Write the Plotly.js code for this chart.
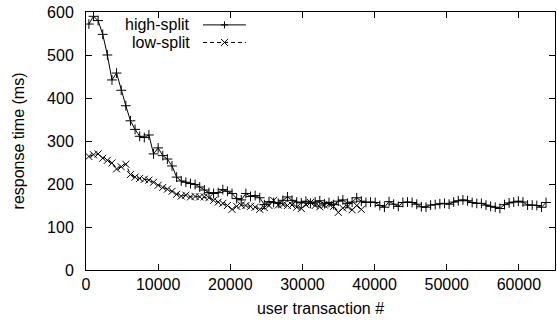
<!DOCTYPE html>
<html>
<head>
<meta charset="utf-8">
<script src="https://cdn.plot.ly/plotly-3.0.1.min.js"></script>
<style>html,body{margin:0;padding:0;background:#fff;}#chart{width:557px;height:324px;}</style>
</head>
<body>
<div id="chart"></div>
<script>
// user transaction # (x) and response time in ms (y)
const highX = [400,1040,1680,2320,2960,3600,4240,4880,5520,6160,6800,7440,8080,8720,9360,10000,10640,11280,11920,12560,
  13200,13840,14480,15120,15760,16400,17040,17680,18320,18960,19600,20240,20880,21520,22160,22800,23440,24080,24720,25360,
  26000,26640,27280,27920,28560,29200,29840,30480,31120,31760,32400,33040,33680,34320,34960,35600,36240,36880,37520,38160,
  38800,39440,40080,40720,41360,42000,42640,43280,43920,44560,45200,45840,46480,47120,47760,48400,49040,49680,50320,50960,
  51600,52240,52880,53520,54160,54800,55440,56080,56720,57360,58000,58640,59280,59920,60560,61200,61840,62480,63120,63760];
const highY = [572,590,580,548,500,442,458,418,382,347,327,311,308,314,270,284,266,258,242,216,
  207,204,201,199,193,186,180,178,180,187,183,178,166,163,178,171,173,168,152,159,
  157,155,162,170,162,158,156,160,155,158,161,154,157,152,160,163,155,158,168,160,
  157,158,157,150,146,159,153,148,157,158,157,153,147,146,151,152,154,155,153,158,
  161,163,161,157,155,155,151,148,146,143,152,156,158,160,158,151,151,150,146,157];
const lowX = [400,1040,1680,2320,2960,3600,4240,4880,5520,6160,6800,7440,8080,8720,9360,10000,10640,11280,11920,12560,
  13200,13840,14480,15120,15760,16400,17040,17680,18320,18960,19600,20240,20880,21520,22160,22800,23440,24080,24720,25360,
  26000,26640,27280,27920,28560,29200,29840,30480,31120,31760,32400,33040,33680,34320,34960,35600,36240,36880,37520,38160];
const lowY = [264,268,270,260,255,249,235,240,246,222,216,213,211,209,204,197,192,188,183,176,
  172,174,170,171,170,170,168,162,158,155,150,141,148,151,150,148,146,141,145,150,
  162,151,152,150,151,146,143,152,157,150,147,151,153,148,134,144,147,140,150,141];
const seriesNames = ["high-split", "low-split"];
const xTicks = [0,10000,20000,30000,40000,50000,60000];
const yTicks = [0,100,200,300,400,500,600];

const FONT = "Liberation Sans, Arial, Helvetica, sans-serif";
const FS = 16;
const traces = [
  {x: highX, y: highY, name: seriesNames[0], type: "scatter", mode: "lines+markers",
   line: {color: "#000", width: 1},
   marker: {symbol: "cross-thin", size: 7, line: {color: "#000", width: 1}, color: "#000"}},
  {x: lowX, y: lowY, name: seriesNames[1], type: "scatter", mode: "lines+markers",
   line: {color: "#000", width: 1, dash: "4px,3px"},
   marker: {symbol: "x-thin", size: 7, line: {color: "#000", width: 1}, color: "#000"}}
];

// legend key drawn gnuplot-style: text on the left, sample on the right
const keyTextX = 0.226, keyLineX0 = 0.2495, keyLineX1 = 0.341, keyMarkX = 0.2953;
const keyY = [0.950, 0.882];
const shapes = [
  {type: "line", xref: "paper", yref: "paper", x0: keyLineX0, x1: keyLineX1, y0: keyY[0], y1: keyY[0], line: {color: "#000", width: 1}},
  {type: "line", xref: "paper", yref: "paper", x0: keyLineX0, x1: keyLineX1, y0: keyY[1], y1: keyY[1], line: {color: "#000", width: 1, dash: "4px,3px"}},
  {type: "line", xref: "paper", yref: "paper", xsizemode: "pixel", ysizemode: "pixel", xanchor: keyMarkX, yanchor: keyY[0], x0: -3.5, x1: 3.5, y0: 0, y1: 0, line: {color: "#000", width: 1}},
  {type: "line", xref: "paper", yref: "paper", xsizemode: "pixel", ysizemode: "pixel", xanchor: keyMarkX, yanchor: keyY[0], x0: 0, x1: 0, y0: -3.5, y1: 3.5, line: {color: "#000", width: 1}},
  {type: "line", xref: "paper", yref: "paper", xsizemode: "pixel", ysizemode: "pixel", xanchor: keyMarkX, yanchor: keyY[1], x0: -3.5, x1: 3.5, y0: -3.5, y1: 3.5, line: {color: "#000", width: 1}},
  {type: "line", xref: "paper", yref: "paper", xsizemode: "pixel", ysizemode: "pixel", xanchor: keyMarkX, yanchor: keyY[1], x0: -3.5, x1: 3.5, y0: 3.5, y1: -3.5, line: {color: "#000", width: 1}}
];
const annotations = seriesNames.map((n, i) => ({
  text: n, xref: "paper", yref: "paper", x: keyTextX, y: keyY[i], xanchor: "right", yanchor: "middle",
  showarrow: false, font: {family: FONT, size: FS, color: "#000"}
}));

const layout = {
  width: 557, height: 324,
  margin: {l: 86, r: 2, t: 12, b: 54, pad: 0},
  paper_bgcolor: "#fff", plot_bgcolor: "#fff",
  showlegend: false,
  font: {family: FONT, size: FS, color: "#000"},
  xaxis: {range: [0, 65000], tickvals: xTicks, ticktext: xTicks.map(String),
    ticks: "inside", ticklen: 6, tickcolor: "#000", tickwidth: 1,
    showline: true, linecolor: "#000", linewidth: 1, mirror: "allticks",
    showgrid: false, zeroline: false, ticklabelstandoff: 0,
    title: {text: "user transaction #", font: {family: FONT, size: FS}, standoff: 10}},
  yaxis: {range: [0, 600], tickvals: yTicks, ticktext: yTicks.map(String),
    ticks: "inside", ticklen: 6, tickcolor: "#000", tickwidth: 1,
    showline: true, linecolor: "#000", linewidth: 1, mirror: "allticks",
    showgrid: false, zeroline: false, ticklabelstandoff: 8,
    title: {text: "response time (ms)", font: {family: FONT, size: FS}, standoff: 18}},
  shapes: shapes,
  annotations: annotations
};
Plotly.newPlot("chart", traces, layout, {displayModeBar: false, staticPlot: true});
</script>
</body>
</html>
